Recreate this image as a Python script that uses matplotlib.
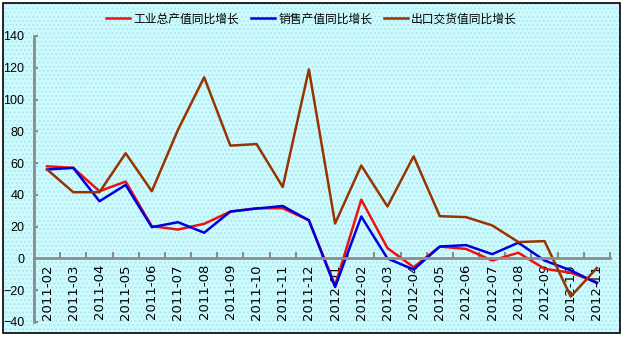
import matplotlib
matplotlib.use("Agg")
import matplotlib.pyplot as plt
from matplotlib.patches import Rectangle

plt.rcParams['font.family'] = ['Noto Sans CJK SC', 'DejaVu Sans']

months = ["2011-02", "2011-03", "2011-04", "2011-05", "2011-06", "2011-07",
          "2011-08", "2011-09", "2011-10", "2011-11", "2011-12", "2012-01",
          "2012-02", "2012-03", "2012-04", "2012-05", "2012-06", "2012-07",
          "2012-08", "2012-09", "2012-10", "2012-11"]

# 工业总产值同比增长
output_growth = [58, 57, 42.3, 48.4, 20.3, 18.2, 21.8, 29.5, 31.6, 31.6, 24, -17,
                 37, 6.5, -5.5, 7.5, 6, -1.3, 3.6, -6.5, -9, -15]
# 销售产值同比增长
sales_growth = [56, 57, 36, 46.3, 19.7, 22.8, 16.2, 29.5, 31.4, 33, 24, -18,
                26.4, 0, -7, 7.5, 8.4, 2.7, 9.9, -1.3, -7.5, -15.5]
# 出口交货值同比增长
export_growth = [56, 41.7, 41.7, 66.2, 42.3, 81, 114, 71, 72, 45, 119, 22,
                 58.5, 32.7, 64.3, 26.6, 26, 20.8, 10.3, 10.9, -24, -6]

labels = ["工业总产值同比增长", "销售产值同比增长", "出口交货值同比增长"]
colors = ["#EE1111", "#0000DD", "#993300"]

W, H = 627, 338
fig = plt.figure(figsize=(W / 100, H / 100), dpi=100)
fig.patch.set_facecolor("white")

# chart area with border
bg = Rectangle((3 / W, 5 / H), 617 / W, 330 / H, transform=fig.transFigure,
               facecolor="#CCFCFF", edgecolor="black", linewidth=1.2,
               zorder=-2)
fig.patches.append(bg)
dots = Rectangle((4 / W, 6 / H), 615 / W, 328 / H, transform=fig.transFigure,
                 facecolor="none", edgecolor="#B4E6EA", hatch="....",
                 linewidth=0, zorder=-1)
fig.patches.append(dots)

ax = fig.add_axes([34 / W, 16 / H, (610 - 34) / W, (302 - 16) / H])
ax.set_facecolor("none")
ax.set_zorder(2)

x = list(range(len(months)))
for ys, lab, c in zip([output_growth, sales_growth, export_growth], labels, colors):
    ax.plot(x, ys, color=c, linewidth=1.8, label=lab)

ax.set_xlim(-0.5, len(months) - 0.5)
ax.set_ylim(-40, 140)
ax.set_yticks(range(-40, 141, 20))

ax.spines['top'].set_visible(False)
ax.spines['right'].set_visible(False)
ax.spines['bottom'].set_position(('data', 0))
for s in ['left', 'bottom']:
    ax.spines[s].set_color("#8C8C8C")
    ax.spines[s].set_linewidth(2)

ax.set_xticks(x)
ax.set_xticklabels(months, rotation=90, family=['DejaVu Sans'], fontsize=9.5)
ax.set_xticks([i + 0.5 for i in range(len(months))], minor=True)
ax.tick_params(axis='x', which='major', length=0, pad=4)
ax.tick_params(axis='x', which='minor', direction='in', length=4, width=1.5,
               color="#8C8C8C")
ax.tick_params(axis='y', direction='in', length=3, width=1.5, color="#8C8C8C",
               pad=7, labelsize=9)
for t in ax.get_yticklabels():
    t.set_family(['Liberation Sans', 'DejaVu Sans'])

fig.legend(loc="center", bbox_to_anchor=(0.497, 1 - 19 / H), ncol=3,
           frameon=False, fontsize=8.5, handlelength=2.0, handletextpad=0.3,
           columnspacing=1.0)

fig.savefig("out.png", dpi=100)
